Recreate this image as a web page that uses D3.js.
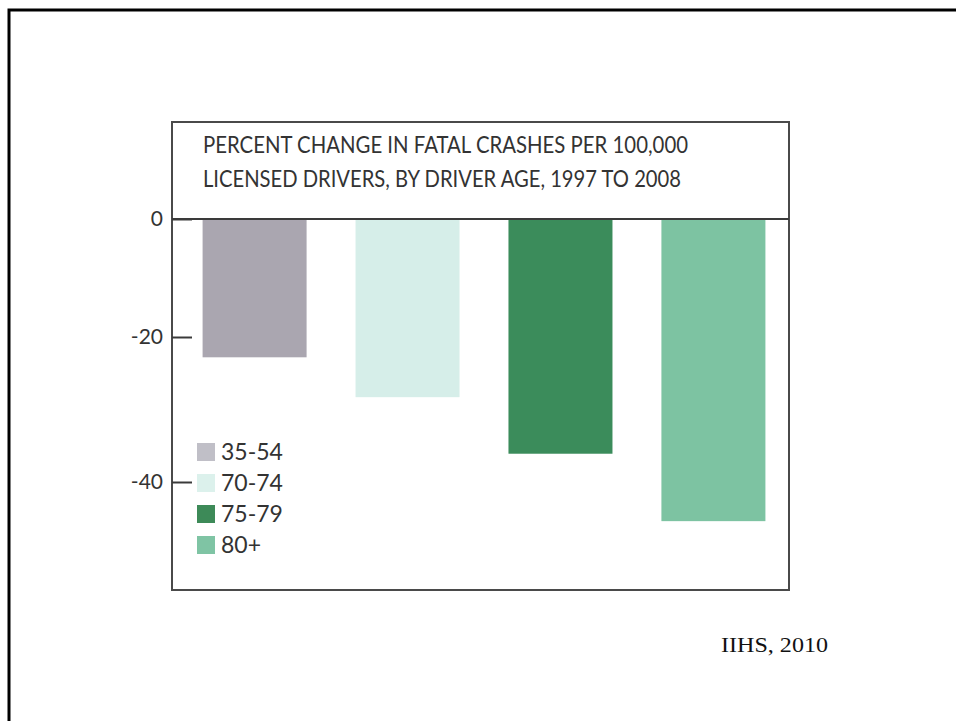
<!DOCTYPE html>
<html>
<head>
<meta charset="utf-8">
<script src="https://cdn.jsdelivr.net/npm/d3@7"></script>
<style>
  html, body { margin: 0; padding: 0; background: #fff; }
  svg { display: block; }
</style>
</head>
<body>
<svg id="chart" width="956" height="721"></svg>
<script>
// ---- data ----
const categories = ["35-54", "70-74", "75-79", "80+"];
const values = [-22.8, -28.3, -36.1, -45.4];
const colors = ["#aaa6b0", "#d6eee9", "#3b8c5b", "#7dc3a2"];
const legendColors = ["#c0bfc7", "#dcf1ec", "#3d8a58", "#7fc4a4"];
const tickValues = [0, -20, -40];
const titleLines = ["PERCENT CHANGE IN FATAL CRASHES PER 100,000", "LICENSED DRIVERS, BY DRIVER AGE, 1997 TO 2008"];
const sourceText = "IIHS, 2010";

const svg = d3.select("#chart");

// slide frame
svg.append("rect")
  .attr("x", 9).attr("y", 10).attr("width", 980).attr("height", 740)
  .attr("fill", "none").attr("stroke", "#000").attr("stroke-width", 3);

// chart box
const box = { left: 172, top: 122, right: 789, bottom: 590 };

// scales (the printed axis is not evenly spaced; follow its tick positions)
const y = d3.scaleLinear().domain([0, -20, -40]).range([219, 337, 482]);
const x = d3.scaleBand().domain(categories).range([172, 796])
  .paddingInner(0.32).paddingOuter(0.2);

// bars
svg.append("g").selectAll("rect").data(values).join("rect")
  .attr("x", (d, i) => x(categories[i]))
  .attr("width", x.bandwidth())
  .attr("y", y(0))
  .attr("height", d => y(d) - y(0))
  .attr("fill", (d, i) => colors[i]);

// box
svg.append("rect")
  .attr("x", box.left).attr("y", box.top)
  .attr("width", box.right - box.left).attr("height", box.bottom - box.top)
  .attr("fill", "none").attr("stroke", "#4a4a4a").attr("stroke-width", 2);

// zero line
svg.append("line")
  .attr("x1", box.left).attr("x2", box.right)
  .attr("y1", y(0)).attr("y2", y(0))
  .attr("stroke", "#3a3a3a").attr("stroke-width", 2);

// y axis
const axis = d3.axisLeft(y).tickValues(tickValues).tickSize(-20).tickPadding(9)
  .tickFormat(d => String(d));
const gAxis = svg.append("g").attr("transform", `translate(${box.left},0)`).call(axis);
gAxis.select(".domain").remove();
gAxis.selectAll(".tick line").attr("stroke", "#3a3a3a").attr("stroke-width", 2);
gAxis.selectAll(".tick text")
  .attr("fill", "#333").style("font-family", "Lato, 'Open Sans', sans-serif").style("font-size", "21px");

// title
const titleLengths = [485, 478];
svg.append("g").selectAll("text").data(titleLines).join("text")
  .attr("x", 203).attr("y", (d, i) => 153 + i * 34)
  .attr("fill", "#333")
  .attr("textLength", (d, i) => titleLengths[i])
  .attr("lengthAdjust", "spacingAndGlyphs")
  .style("font-family", "Lato, 'Open Sans', sans-serif").style("font-size", "22.5px")
  .text(d => d);

// legend
const lg = svg.append("g");
categories.forEach((c, i) => {
  const cy = 452 + i * 31;
  lg.append("rect").attr("x", 197).attr("y", cy - 9).attr("width", 18).attr("height", 18)
    .attr("fill", legendColors[i]);
  lg.append("text").attr("x", 221).attr("y", cy).attr("dy", "0.36em")
    .attr("fill", "#333")
    .style("font-family", "Lato, 'Open Sans', sans-serif").style("font-size", "23px")
    .text(c);
});

// source
svg.append("text").attr("x", 721).attr("y", 652)
  .attr("fill", "#111").attr("textLength", 107).attr("lengthAdjust", "spacingAndGlyphs")
  .style("font-family", "'Liberation Serif', 'DejaVu Serif', serif").style("font-size", "22px")
  .text(sourceText);
</script>
</body>
</html>
